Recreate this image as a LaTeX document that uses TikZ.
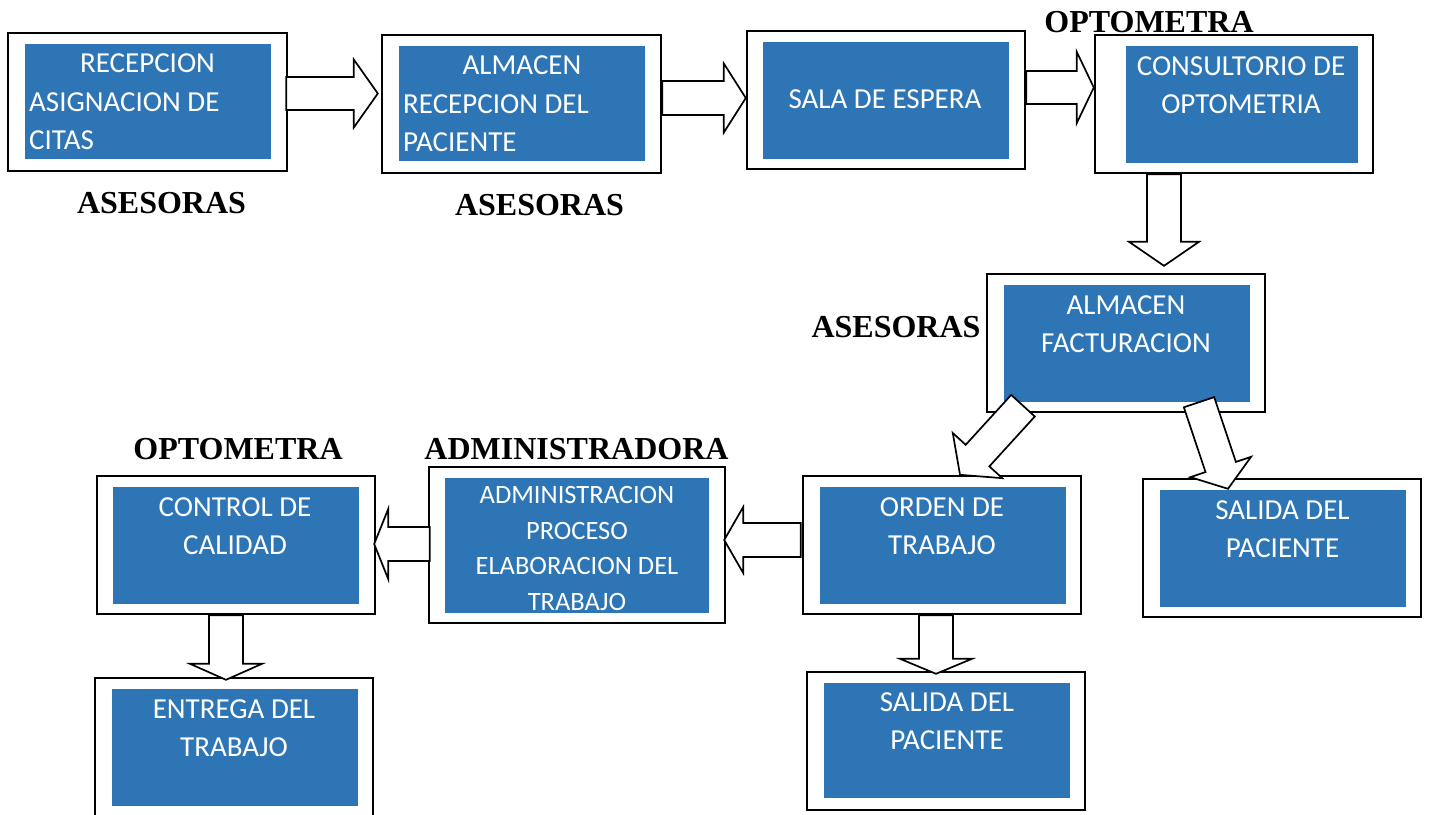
\documentclass[tikz,border=0pt]{standalone}
\usepackage{fontspec}
\setmainfont{Carlito}
\newfontfamily\labelfont{Liberation Serif}
\usetikzlibrary{calc}
\definecolor{boxblue}{RGB}{46,117,182}
\newcommand\blockarr[5]{% #1 tail, #2 tip, #3 shaft half width, #4 head half width, #5 head length
  \path ($(#2)!#5!(#1)$) coordinate (bah);
  \draw[arrowline] ($(#1)!#3!90:(#2)$) -- ($(bah)!#3!90:(#2)$) -- ($(bah)!#4!90:(#2)$) -- (#2)
    -- ($(bah)!#4!-90:(#2)$) -- ($(bah)!#3!-90:(#2)$) -- ($(#1)!#3!-90:(#2)$) -- cycle;
}
\begin{document}
\begin{tikzpicture}[x=1pt,y=-1pt,
  obox/.style={draw=black, line width=2.4pt, fill=white, inner sep=0pt, minimum width=278pt, minimum height=138pt},
  ibox/.style={fill=boxblue, draw=none, inner sep=0pt, minimum width=246pt, minimum height=117pt},
  btext/.style={text=white, inner sep=0pt, font=\fontsize{29}{38}\selectfont, align=center, anchor=north},
  ltext/.style={btext, align=left, anchor=north west},
  role/.style={inner sep=0pt, anchor=base, font=\labelfont\bfseries\fontsize{32}{38}\selectfont},
  arrowline/.style={draw=black, fill=white, line width=1.7pt, line join=miter}]
\useasboundingbox (0,0) rectangle (1432,814);

% boxes
\node[obox, minimum width=279pt] (b1o) at (147.5,102) {};
\node[ibox, minimum height=115pt] (b1i) at (148,101.5) {};
\node[obox, minimum width=279pt] (b2o) at (521.5,104) {};
\node[ibox, minimum height=115pt] (b2i) at (522,103.5) {};
\node[obox] (b3o) at (886,100) {};
\node[ibox] (b3i) at (886,100.5) {};
\node[obox] (b4o) at (1234,104) {};
\node[ibox, minimum width=232pt] (b4i) at (1242,104.5) {};
\node[obox] (b5o) at (1126,343) {};
\node[ibox] (b5i) at (1127,343.5) {};
\node[obox] (b6o) at (942,545) {};
\node[ibox] (b6i) at (943,545.5) {};
\node[obox] (b7o) at (946,741) {};
\node[ibox, minimum height=115pt] (b7i) at (947,740.5) {};
\node[obox] (b8o) at (1282,548) {};
\node[ibox] (b8i) at (1283,548.5) {};
\node[obox, minimum width=296pt, minimum height=156pt] (b9o) at (577,545) {};
\node[ibox, minimum width=264pt, minimum height=135pt] (b9i) at (577,545.5) {};
\node[obox] (b10o) at (236,545) {};
\node[ibox] (b10i) at (236,545.5) {};
\node[obox] (b11o) at (234,747) {};
\node[ibox] (b11i) at (235,747.5) {};

% box texts
\node[btext] (b1t) at (147.5,53) {RECEPCION};
\node[ltext] (b1u) at (29,92) {ASIGNACION DE\\CITAS};
\node[btext] (b2t) at (522,55) {ALMACEN};
\node[ltext] (b2u) at (403,94) {RECEPCION DEL\\PACIENTE};
\node[btext] (b3t) at (885,89) {SALA DE ESPERA};
\node[btext] (b4t) at (1241,56) {CONSULTORIO DE\\OPTOMETRIA};
\node[btext] (b5t) at (1126,295) {ALMACEN\\FACTURACION};
\node[btext] (b6t) at (942,497) {ORDEN DE\\TRABAJO};
\node[btext] (b7t) at (947,692) {SALIDA DEL\\PACIENTE};
\node[btext] (b8t) at (1282.5,500) {SALIDA DEL\\PACIENTE};
\node[btext, font=\fontsize{26.5}{35.7}\selectfont] (b9t) at (577,486) {ADMINISTRACION\\PROCESO\\ELABORACION DEL\\TRABAJO};
\node[btext] (b10t) at (235,497) {CONTROL DE\\CALIDAD};
\node[btext] (b11t) at (234,699) {ENTREGA DEL\\TRABAJO};

% role labels
\node[role] (r1) at (161.5,213) {ASESORAS};
\node[role] (r2) at (539.5,215) {ASESORAS};
\node[role] (r3) at (1149,32) {OPTOMETRA};
\node[role] (r4) at (896,337) {ASESORAS};
\node[role] (r5) at (238,459) {OPTOMETRA};
\node[role] (r6) at (576.5,459) {ADMINISTRADORA};

% arrow end points
\coordinate (a1s) at ($(b1o.east)+(-2,-8.5)$);
\coordinate (a1e) at ($(b2o.west)+(-3,-10.5)$);
\coordinate (a2s) at ($(b2o.east)+(0,-6)$);
\coordinate (a2e) at ($(b3o.west)+(0,-2)$);
\coordinate (a3s) at ($(b3o.east)+(0,-12.5)$);
\coordinate (a3e) at ($(b4o.west)+(0,-16.5)$);
\coordinate (a4s) at ($(b4o.south)+(-70,0)$);
\coordinate (a4e) at ($(b5o.north)+(38,-7)$);
\coordinate (a5s) at ($(b5o.south)+(-103,-7.5)$);
\coordinate (a5e) at ($(b6o.north)+(18,0)$);
\coordinate (a6s) at ($(b5o.south)+(73,-11)$);
\coordinate (a6e) at ($(b8o.north)+(-54,11)$);
\coordinate (a7s) at ($(b6o.west)+(-1,-5)$);
\coordinate (a7e) at ($(b9o.east)+(-2,-5)$);
\coordinate (a8s) at ($(b9o.west)+(2,-1)$);
\coordinate (a8e) at ($(b10o.east)+(-2,-1)$);
\coordinate (a9s) at ($(b6o.south)+(-6,0)$);
\coordinate (a9e) at ($(b7o.north)+(-10,3)$);
\coordinate (a10s) at ($(b10o.south)+(-10,0)$);
\coordinate (a10e) at ($(b11o.north)+(-8,3)$);

% block arrows
\blockarr{a1s}{a1e}{16.5pt}{34pt}{24pt}
\blockarr{a2s}{a2e}{17pt}{34.5pt}{22pt}
\blockarr{a3s}{a3e}{16.5pt}{35.5pt}{17pt}
\blockarr{a4s}{a4e}{17pt}{35pt}{24pt}
\blockarr{a5s}{a5e}{16pt}{33.5pt}{26pt}
\blockarr{a6s}{a6e}{16pt}{32pt}{23pt}
\blockarr{a7s}{a7e}{17pt}{33pt}{19pt}
\blockarr{a8s}{a8e}{17pt}{35pt}{14pt}
\blockarr{a9s}{a9e}{17pt}{36pt}{15pt}
\blockarr{a10s}{a10e}{17pt}{36pt}{16pt}
\end{tikzpicture}
\end{document}
